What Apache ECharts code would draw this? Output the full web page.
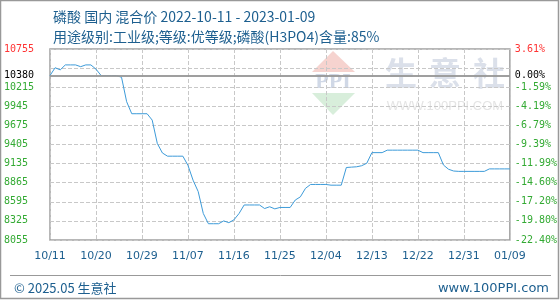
<!DOCTYPE html>
<html>
<head>
<meta charset="utf-8">
<script src="https://cdn.jsdelivr.net/npm/echarts@6/dist/echarts.min.js"></script>
<style>
html,body{margin:0;padding:0;background:#fff;}
#c{width:560px;height:300px;}
</style>
</head>
<body>
<div id="c"></div>
<script>
// ---- data ----
var titleLine1 = '磷酸 国内 混合价 2022-10-11 - 2023-01-09';
var titleLine2 = '用途级别:工业级;等级:优等级;磷酸(H3PO4)含量:85%';
var footerLeft = '© 2025.05 生意社';
var footerRight = 'www.100PPI.com';
var startDate = '2022-10-11';
var dayCount = 91;
var prices = [10380,10490,10460,10530,10530,10530,10505,10530,10530,10470,
  10380,10380,10380,10380,10355,10010,9840,9840,9840,9840,
  9750,9420,9285,9240,9240,9240,9240,9110,8900,8740,
  8430,8285,8285,8285,8325,8300,8340,8430,8550,8550,
  8550,8550,8500,8525,8495,8515,8515,8515,8620,8665,
  8785,8840,8840,8840,8840,8830,8830,8830,9080,9085,
  9090,9105,9140,9290,9290,9290,9325,9325,9325,9325,
  9325,9325,9325,9290,9290,9290,9290,9115,9055,9030,
  9025,9025,9025,9025,9025,9025,9060,9060,9060,9060,
  9060];
var yMin = 8055, yMax = 10755, yStep = 270;
var hiddenTick = 10485;
var basePrice = prices[0];

// categories (dates)
var dates = [];
(function(){
  var p = startDate.split('-');
  var t = Date.UTC(+p[0], +p[1]-1, +p[2]);
  for (var i = 0; i < dayCount; i++) {
    var d = new Date(t + i*86400000);
    var mm = ('0'+(d.getUTCMonth()+1)).slice(-2), dd = ('0'+d.getUTCDate()).slice(-2);
    dates.push(mm + '/' + dd);
  }
})();

var RED = '#ff3333', GREEN = '#33aa33', BLUE_TXT = '#1d5f8f';
var monoFont = '"DejaVu Sans Mono", monospace';
function pct(v){ return ((v/basePrice - 1)*100).toFixed(2) + '%'; }

var chart = echarts.init(document.getElementById('c'), null, {renderer:'canvas'});
chart.setOption({
  animation: false,
  backgroundColor: '#fff',
  title: [
    {text: titleLine1, left: 48, top: 5, textStyle:{fontSize:14, fontWeight:'normal', color: BLUE_TXT, fontFamily:'"Noto Sans CJK SC", sans-serif'}},
    {text: titleLine2, left: 48, top: 25, textStyle:{fontSize:14, fontWeight:'normal', color: BLUE_TXT, fontFamily:'"Noto Sans CJK SC", sans-serif'}},
    {text: footerLeft, left: 9, top: 277, textStyle:{fontSize:13, fontWeight:'normal', color: BLUE_TXT, fontFamily:'"Noto Sans CJK SC", sans-serif'}},
    {text: footerRight, right: 6, top: 277, textStyle:{fontSize:13, fontWeight:'normal', color: BLUE_TXT, fontFamily:'"DejaVu Sans", sans-serif'}}
  ],
  graphic: [
    {type:'rect', shape:{x:0.5,y:0.5,width:558,height:298}, style:{fill:'none', stroke:'#999', lineWidth:1.5}, z:-20},
    {type:'line', shape:{x1:10,y1:275.5,x2:551,y2:275.5}, style:{stroke:'#999', lineWidth:1}},
    // watermark
    {type:'polygon', shape:{points:[[312,72],[333,51],[355,72]]}, style:{fill:'#f6d3cf'}, z:-10},
    {type:'polygon', shape:{points:[[312,93],[355,93],[333,115]]}, style:{fill:'#d8eedb'}, z:-10},
    {type:'text', style:{text:'PPI', x:333, y:82, align:'center', verticalAlign:'middle', font:'bold 22px "Liberation Serif", serif', fill:'#d0d8e6'}, z:-10},
    {type:'text', style:{text:'生', x:401, y:73, align:'center', verticalAlign:'middle', font:'bold 32px "Noto Sans CJK SC", sans-serif', fill:'#dbe0ea'}, z:-10},
    {type:'text', style:{text:'意', x:445, y:73, align:'center', verticalAlign:'middle', font:'bold 32px "Noto Sans CJK SC", sans-serif', fill:'#dbe0ea'}, z:-10},
    {type:'text', style:{text:'社', x:489, y:73, align:'center', verticalAlign:'middle', font:'bold 32px "Noto Sans CJK SC", sans-serif', fill:'#dbe0ea'}, z:-10},
    {type:'text', style:{text:'WWW.100PPI.COM', x:445, y:106, align:'center', verticalAlign:'middle', font:'13px "Liberation Sans", sans-serif', fill:'#e4e4e4'}, z:-10}
  ],
  grid: {left:50, right:50, top:49, bottom:60, show:true, borderColor:'#a0a0a0', borderWidth:1.5, backgroundColor:'transparent'},
  xAxis: {
    type:'category', data: dates, boundaryGap:false,
    axisLine:{show:false}, axisTick:{show:false},
    axisLabel:{interval:8, color: BLUE_TXT, fontSize:11, margin:11, fontFamily:'"DejaVu Sans", sans-serif', showMaxLabel:true},
    splitLine:{show:true, interval:8, lineStyle:{color:'#c8c8c8', type:'dashed', width:1}}
  },
  yAxis: [
    {
      type:'value', min:yMin, max:yMax, interval:yStep, position:'left',
      axisLine:{show:false}, axisTick:{show:false},
      splitLine:{show:true, lineStyle:{color:'#c8c8c8', type:'dashed', width:1}},
      axisLabel:{
        align:'left', margin:46, fontSize:10, fontFamily: monoFont,
        formatter:function(v){ return v === hiddenTick ? '' : String(v); },
        color:function(v){ return Number(v) === yMax ? RED : GREEN; }
      }
    },
    {
      type:'value', min:yMin, max:yMax, interval:yStep, position:'right',
      axisLine:{show:false}, axisTick:{show:false}, splitLine:{show:false},
      axisLabel:{
        align:'left', margin:5, fontSize:10, fontFamily: monoFont,
        formatter:function(v){ return v === hiddenTick ? '' : pct(v); },
        color:function(v){ return Number(v) === yMax ? RED : GREEN; }
      }
    }
  ],
  series: [{
    type:'line', data: prices, showSymbol:false, symbol:'none',
    lineStyle:{color:'#3d9bd9', width:1}, itemStyle:{color:'#3d9bd9'},
    markLine:{
      silent:true, symbol:['none','none'], animation:false,
      lineStyle:{color:'#999', type:'solid', width:1.5},
      data:[
        {yAxis: basePrice, label:{show:true, position:'start', formatter:String(basePrice), color:'#000', fontSize:10, fontWeight:'normal', fontFamily:monoFont, distance:16}},
        {yAxis: basePrice, label:{show:true, position:'end', formatter:pct(basePrice), color:'#000', fontSize:10, fontWeight:'normal', fontFamily:monoFont, distance:5}}
      ]
    }
  }]
});
</script>
</body>
</html>
